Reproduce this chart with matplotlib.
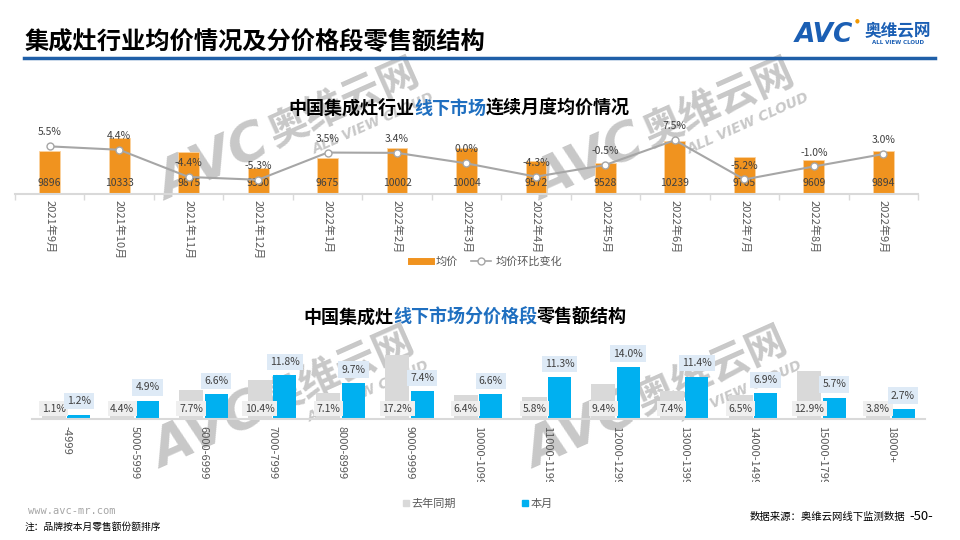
import numpy as np
import matplotlib
matplotlib.use("Agg")
import matplotlib.pyplot as plt
from matplotlib.lines import Line2D
from matplotlib.transforms import Bbox, TransformedBbox

plt.rcParams['font.family'] = ['Noto Sans CJK SC', 'DejaVu Sans']

# 上图：月度均价
months = ['2021年9月', '2021年10月', '2021年11月', '2021年12月', '2022年1月', '2022年2月',
          '2022年3月', '2022年4月', '2022年5月', '2022年6月', '2022年7月', '2022年8月', '2022年9月']
avg_price = [9896, 10333, 9875, 9350, 9675, 10002, 10004, 9572, 9528, 10239, 9705, 9609, 9894]
mom_pct = [5.5, 4.4, -4.4, -5.3, 3.5, 3.4, 0.0, -4.3, -0.5, 7.5, -5.2, -1.0, 3.0]

# 下图：分价格段零售额结构
price_bands = ['-4999', '5000-5999', '6000-6999', '7000-7999', '8000-8999', '9000-9999',
               '10000-10999', '11000-11999', '12000-12999', '13000-13999', '14000-14999',
               '15000-17999', '18000+']
last_year = [1.1, 4.4, 7.7, 10.4, 7.1, 17.2, 6.4, 5.8, 9.4, 7.4, 6.5, 12.9, 3.8]
this_month = [1.2, 4.9, 6.6, 11.8, 9.7, 7.4, 6.6, 11.3, 14.0, 11.4, 6.9, 5.7, 2.7]

ORANGE = '#f0931f'
LINE_GRAY = '#a6a6a6'
BAR_GRAY = '#d9d9d9'
BLUE = '#00b0f0'
TXT = '#404040'
HEAD_BLUE = '#1f5fa8'
TITLE_BLUE = '#1f6fc0'
W, H = 960, 540


def fx(x):
    return x / W


def fy(y):
    return 1 - y / H


fig = plt.figure(figsize=(9.6, 5.4), dpi=100)
renderer = fig.canvas.get_renderer()


def multicolor_title(x_left, y, parts, size=13):
    # 逐段绘制，按实际宽度接续
    cur = x_left
    for txt, col in parts:
        t = fig.text(fx(cur), fy(y), txt, fontsize=size, fontweight='bold', color=col,
                     ha='left', va='center')
        cur += t.get_window_extent(renderer).width


# 水印（在图表后面）
def watermark(x0, y0, ang=24):
    t = np.radians(ang)
    u = np.array([np.cos(t), -np.sin(t)])
    n = np.array([-np.sin(t), -np.cos(t)])
    p = np.array([x0, y0], dtype=float)
    kw = dict(rotation=ang, rotation_mode='anchor', color='#c8c8c8', zorder=-5,
              ha='left', va='baseline')
    fig.text(fx(p[0]), fy(p[1]), 'AVC', fontsize=38, fontweight='bold', style='italic',
             family='DejaVu Sans', **kw)
    q = p + u * 122 + n * 6
    fig.text(fx(q[0]), fy(q[1]), '奥维云网', fontsize=29, fontweight='bold', **kw)
    r = p + u * 155 - n * 18
    fig.text(fx(r[0]), fy(r[1]), 'ALL VIEW CLOUD', fontsize=10, fontweight='bold',
             style='italic', family='DejaVu Sans', **kw)


for wx, wy in [(166, 201), (541, 201), (161, 469), (534, 469)]:
    watermark(wx, wy)

# 页眉
fig.text(fx(25), fy(42), '集成灶行业均价情况及分价格段零售额结构', fontsize=17.5,
         fontweight='bold', color='black', ha='left', va='center')
fig.add_artist(Line2D([fx(24), fx(935)], [fy(58), fy(58)], color=HEAD_BLUE, lw=2.5))
fig.text(fx(795), fy(35), 'AVC', fontsize=19, fontweight='bold', style='italic',
         family='DejaVu Sans', color='#1b5fb4', ha='left', va='center')
fig.text(fx(857), fy(21), '●', fontsize=4, color='#f39800', ha='center', va='center',
         family='DejaVu Sans')
fig.text(fx(898), fy(31), '奥维云网', fontsize=12, fontweight='bold', color='#1b5fb4',
         ha='center', va='center')
fig.text(fx(898), fy(43), 'ALL VIEW CLOUD', fontsize=4, fontweight='bold', color='#1b5fb4',
         ha='center', va='center', family='DejaVu Sans')

# ---------- 上图 ----------
x = np.arange(len(months))
ax1 = fig.add_axes([fx(15), fy(194.3), fx(918) - fx(15), (194.3 - 117) / H])
ax1.set_facecolor('none')
ax1.bar(x, avg_price, width=0.3, color=ORANGE, edgecolor='#fbd3a0', linewidth=0.6, zorder=2)
ax1.set_ylim(8500, 11000)
ax1.set_xlim(-0.5, len(months) - 0.5)
for i, v in enumerate(avg_price):
    ax1.annotate(str(v), (i, 8500), xytext=(0, 8), textcoords='offset points',
                 ha='center', va='center', fontsize=7.5, color=TXT, zorder=5)

ax2 = ax1.twinx()
ax2.set_facecolor('none')
ax2.plot(x, mom_pct, color=LINE_GRAY, lw=1.5, marker='o', markersize=5,
         markerfacecolor='white', markeredgecolor=LINE_GRAY, zorder=3)
ax2.set_ylim(-10, 15)
for i, p in enumerate(mom_pct):
    ax2.annotate(f'{p:.1f}%', (i, p), xytext=(0, 10), textcoords='offset points',
                 ha='center', va='center', fontsize=7.5, color=TXT)

for a in (ax1, ax2):
    for s in ['top', 'right', 'left']:
        a.spines[s].set_visible(False)
    a.set_yticks([])
ax2.spines['bottom'].set_visible(False)
ax1.spines['bottom'].set_color(BAR_GRAY)
ax1.spines['bottom'].set_linewidth(1.5)
ax1.set_xticks(x)
ax1.set_xticklabels(months, rotation=-90, fontsize=8, color='#595959')
ax1.set_xticks(np.arange(-0.5, len(months), 1), minor=True)
ax1.tick_params(axis='x', which='major', length=0, pad=4)
ax1.tick_params(axis='x', which='minor', length=4, color=BAR_GRAY, width=1)

multicolor_title(288, 108, [('中国集成灶行业', 'black'), ('线下市场', TITLE_BLUE),
                            ('连续月度均价情况', 'black')])

h_top = [Line2D([], [], color=ORANGE, lw=5),
         Line2D([], [], color=LINE_GRAY, lw=1.2, marker='o', markersize=5,
                markerfacecolor='white', markeredgecolor=LINE_GRAY)]
leg1 = fig.legend(h_top, ['均价', '均价环比变化'], loc='center', bbox_to_anchor=(fx(487), fy(262)),
                  ncol=2, frameon=False, fontsize=8, handlelength=1.8, handletextpad=0.4,
                  columnspacing=1.2)
for t in leg1.get_texts():
    t.set_color('#595959')

# ---------- 下图 ----------
xb = np.arange(len(price_bands))
ax3 = fig.add_axes([fx(32), fy(419), fx(925) - fx(32), 74.4 / H])
ax3.set_facecolor('none')
ax3.bar(xb - 0.185, last_year, width=0.35, color=BAR_GRAY, zorder=2)
ax3.bar(xb + 0.18, this_month, width=0.335, color=BLUE, zorder=2)
ax3.set_ylim(0, 20)
ax3.set_xlim(-0.5, len(price_bands) - 0.5)
for i, v in enumerate(last_year):
    ax3.text(i - 0.185, 2.8, f'{v:.1f}%', ha='center', va='center', fontsize=7.5, color=TXT,
             zorder=4, bbox=dict(boxstyle='square,pad=0.25', fc='#efefef', ec='none'))
for i, v in enumerate(this_month):
    ax3.annotate(f'{v:.1f}%', (i + 0.18, v), xytext=(0, 6), textcoords='offset points',
                 ha='center', va='bottom', fontsize=7.5, color=TXT, zorder=4,
                 bbox=dict(boxstyle='square,pad=0.3', fc='#deeaf6', ec='none'))
for s in ['top', 'right', 'left']:
    ax3.spines[s].set_visible(False)
ax3.spines['bottom'].set_color(BAR_GRAY)
ax3.spines['bottom'].set_linewidth(1.5)
ax3.set_yticks([])
ax3.set_xticks(xb)
ax3.set_xticklabels(price_bands, rotation=-90, fontsize=8, color='#595959')
ax3.tick_params(axis='x', length=0, pad=5)
clip = TransformedBbox(Bbox([[0, fy(482)], [1, 1]]), fig.transFigure)
for lbl in ax3.get_xticklabels():
    lbl.set_clip_box(clip)
    lbl.set_clip_on(True)

multicolor_title(303, 317, [('中国集成灶', 'black'), ('线下市场分价格段', TITLE_BLUE),
                            ('零售额结构', 'black')])

h_bot = [Line2D([], [], marker='s', ls='none', color=BAR_GRAY, markersize=4),
         Line2D([], [], marker='s', ls='none', color=BLUE, markersize=4)]
leg2 = fig.legend(h_bot, ['去年同期', '本月'], loc='center', bbox_to_anchor=(fx(478), fy(504)),
                  ncol=2, frameon=False, fontsize=8, handlelength=0.5, handletextpad=0.2,
                  columnspacing=6)
for t in leg2.get_texts():
    t.set_color('#595959')

# 页脚
fig.text(fx(28), fy(511), 'www.avc-mr.com', fontsize=7.5, color='#a6a6a6', ha='left',
         va='center', family='DejaVu Sans Mono')
fig.text(fx(25), fy(527), '注：品牌按本月零售额份额排序', fontsize=7, color='black', ha='left',
         va='center')
fig.text(fx(905), fy(517), '数据来源：奥维云网线下监测数据', fontsize=7.5, color='black',
         ha='right', va='center')
fig.text(fx(909), fy(517), '-50-', fontsize=9.5, color='black', ha='left', va='center')

fig.savefig('out.png', dpi=100)
